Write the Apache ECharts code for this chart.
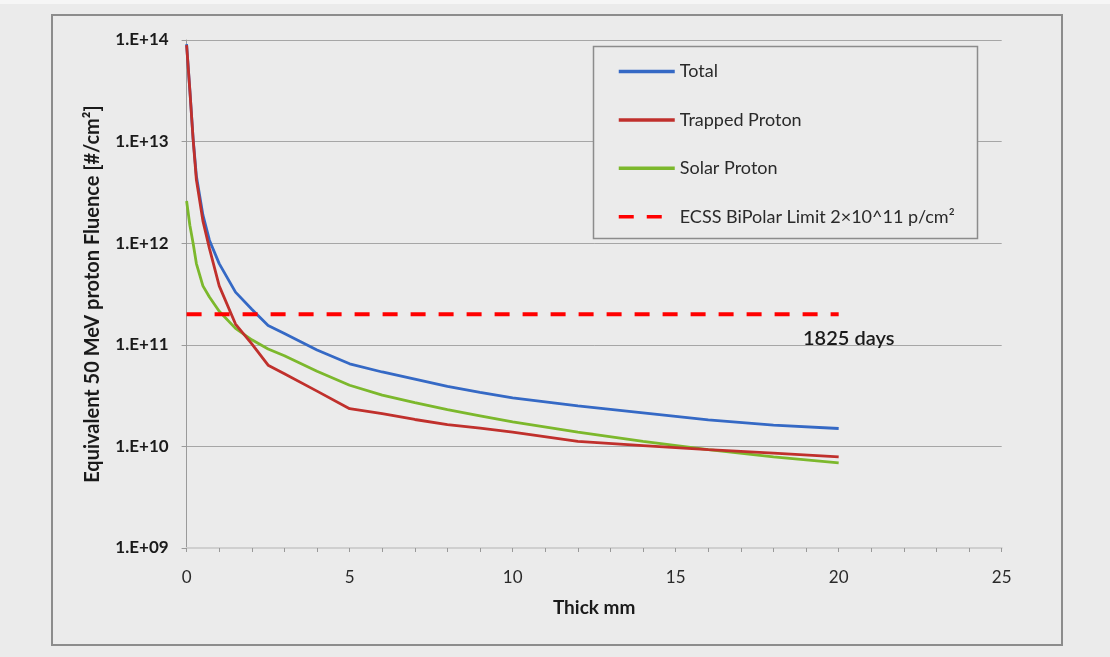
<!DOCTYPE html>
<html>
<head>
<meta charset="utf-8">
<script src="https://cdn.jsdelivr.net/npm/echarts@6/dist/echarts.min.js"></script>
<style>
html,body{margin:0;padding:0;background:#ebebeb;}
#chart{width:1110px;height:657px;}
</style>
</head>
<body>
<div id="chart"></div>
<script>
// Thickness (mm)
const thickness = [0, 0.1, 0.2, 0.3, 0.5, 0.7, 1, 1.5, 2, 2.5, 3, 4, 5, 6, 7, 8, 9, 10, 12, 14, 16, 18, 20];
// Equivalent 50 MeV proton fluence [#/cm²]
const total = [9.1e13, 3.2e13, 1.07e13, 4.6e12, 1.9e12, 1.07e12, 6.3e11, 3.3e11, 2.24e11, 1.55e11, 1.29e11, 8.9e10, 6.5e10, 5.4e10, 4.6e10, 3.9e10, 3.4e10, 3.0e10, 2.5e10, 2.14e10, 1.82e10, 1.62e10, 1.5e10];
const trapped = [8.9e13, 3.2e13, 1.05e13, 4.2e12, 1.66e12, 8.9e11, 3.8e11, 1.6e11, 1.02e11, 6.3e10, 5.2e10, 3.5e10, 2.35e10, 2.1e10, 1.84e10, 1.64e10, 1.51e10, 1.38e10, 1.12e10, 1.02e10, 9.3e9, 8.6e9, 7.9e9];
const solar = [2.6e12, 1.5e12, 1.0e12, 6.3e11, 3.8e11, 2.95e11, 2.14e11, 1.45e11, 1.12e11, 9.1e10, 7.8e10, 5.5e10, 4.0e10, 3.2e10, 2.7e10, 2.3e10, 2.0e10, 1.74e10, 1.38e10, 1.12e10, 9.3e9, 7.9e9, 6.9e9];
const limitX = [0, 20];
const limitY = [2e11, 2e11];
const seriesNames = ['Total', 'Trapped Proton', 'Solar Proton', 'ECSS BiPolar Limit 2×10^11 p/cm²'];
const annotation = '1825 days';
const xTicks = [0, 5, 10, 15, 20, 25];
const yTickExps = [9, 10, 11, 12, 13, 14];

const pairs = (xs, ys) => xs.map((x, i) => [x, ys[i]]);
const FONT = 'Lato';

const chart = echarts.init(document.getElementById('chart'));
chart.setOption({
  animation: false,
  backgroundColor: '#ebebeb',
  textStyle: { fontFamily: FONT },
  graphic: [
    { type: 'rect', z: -10, shape: { x: 0, y: 0, width: 1110, height: 4 }, style: { fill: '#f6f6f6' } },
    { type: 'rect', z: -5, shape: { x: 52, y: 15, width: 1010, height: 630 }, style: { fill: '#ebebeb', stroke: '#8c8c8c', lineWidth: 2 } },
    { type: 'rect', z: 5, shape: { x: 593.5, y: 46.5, width: 384, height: 192 }, style: { fill: '#ebebeb', stroke: '#8c8c8c', lineWidth: 1.5 } },
    { type: 'text', z: 10, left: 803, top: 329, style: { text: annotation, font: '600 20px ' + FONT, fill: '#1a1a1a' } }
  ],
  grid: { left: 186.6, right: 108.3, top: 40, bottom: 109, containLabel: false },
  legend: {
    z: 10,
    orient: 'vertical',
    left: 612,
    top: 57,
    itemWidth: 56,
    itemHeight: 19,
    itemGap: 29.4,
    itemStyle: { opacity: 0 },
    lineStyle: { width: 3.5 },
    textStyle: { fontSize: 18, lineHeight: 19, color: '#2a2a2a', fontFamily: FONT },
    data: seriesNames
  },
  xAxis: {
    type: 'value',
    min: 0, max: 25, interval: 5,
    name: 'Thick mm',
    nameLocation: 'middle',
    nameGap: 50,
    nameTextStyle: { fontSize: 19, fontWeight: 'bold', color: '#1a1a1a' },
    axisLine: { show: true, lineStyle: { color: '#cfcfcf', width: 2 } },
    axisTick: { show: true, length: 4, lineStyle: { color: '#999' } },
    minorTick: { show: true, splitNumber: 5, length: 4, lineStyle: { color: '#999' } },
    axisLabel: { fontSize: 17, color: '#2a2a2a', margin: 21, formatter: v => xTicks.includes(v) ? String(v) : '' },
    splitLine: { show: false }
  },
  yAxis: {
    type: 'log',
    logBase: 10,
    min: 1e9, max: 1e14,
    name: 'Equivalent 50 MeV proton Fluence [#/cm²]',
    nameLocation: 'middle',
    nameGap: 84,
    nameTextStyle: { fontSize: 20, fontWeight: 'bold', color: '#1a1a1a' },
    axisLine: { show: true, lineStyle: { color: '#9a9a9a', width: 1 } },
    axisTick: { show: true, length: 5, lineStyle: { color: '#9a9a9a' } },
    axisLabel: {
      fontSize: 17, fontWeight: 'bold', color: '#1a1a1a', margin: 18,
      formatter: v => { const e = Math.round(Math.log10(v)); return yTickExps.includes(e) ? '1.E+' + (e < 10 ? '0' + e : e) : ''; }
    },
    splitLine: { show: true, lineStyle: { color: '#a6a6a6', width: 1 } }
  },
  series: [
    { name: seriesNames[0], type: 'line', data: pairs(thickness, total), showSymbol: false, symbol: 'none', lineStyle: { color: '#3569c5', width: 2.8 }, itemStyle: { color: '#3569c5' }, z: 3 },
    { name: seriesNames[1], type: 'line', data: pairs(thickness, trapped), showSymbol: false, symbol: 'none', lineStyle: { color: '#c0302c', width: 2.8 }, itemStyle: { color: '#c0302c' }, z: 4 },
    { name: seriesNames[2], type: 'line', data: pairs(thickness, solar), showSymbol: false, symbol: 'none', lineStyle: { color: '#7cb82c', width: 2.8 }, itemStyle: { color: '#7cb82c' }, z: 2 },
    { name: seriesNames[3], type: 'line', data: pairs(limitX, limitY), showSymbol: false, symbol: 'none', lineStyle: { color: '#ff0000', width: 4, type: [15, 13] }, itemStyle: { color: '#ff0000' }, z: 5 }
  ]
});
</script>
</body>
</html>
